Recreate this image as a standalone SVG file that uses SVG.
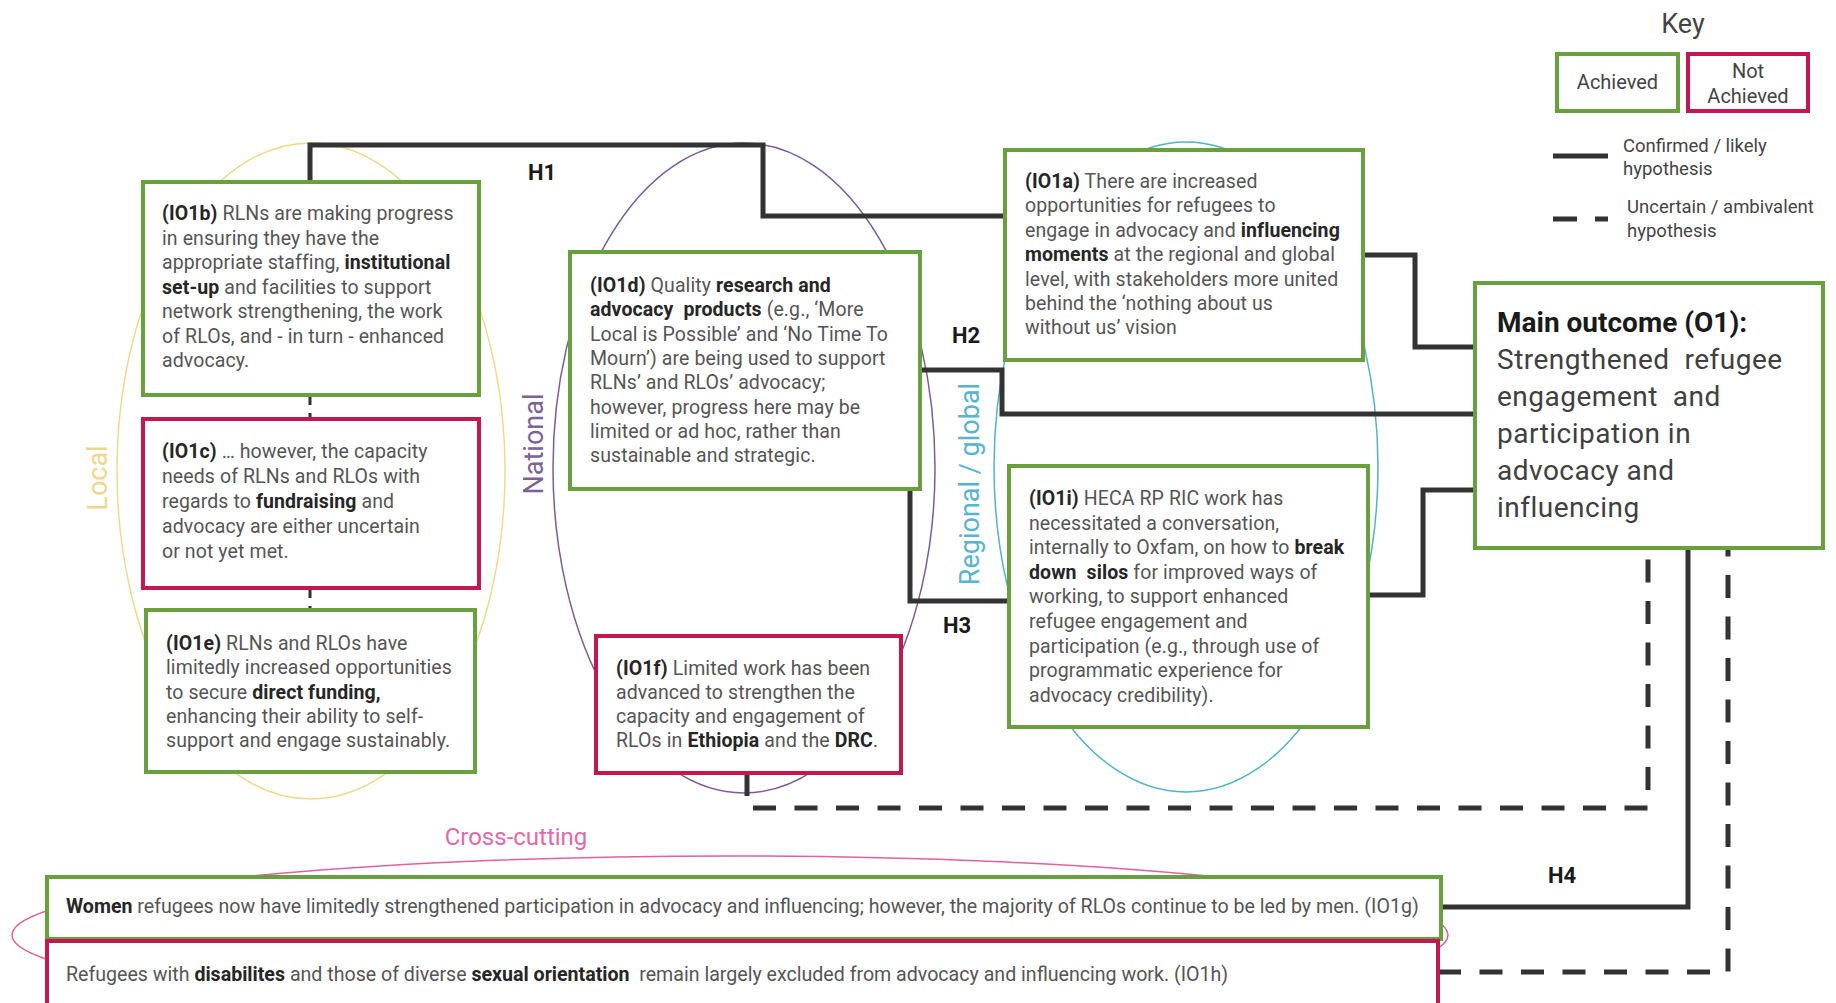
<svg xmlns="http://www.w3.org/2000/svg" width="1836" height="1003" viewBox="0 0 1836 1003">
<style>
.bg{fill:#ffffff}
.bx-g{fill:#ffffff;stroke:#67a03c;stroke-width:4}
.bx-r{fill:#ffffff;stroke:#c5174f;stroke-width:4}
.t{font-family:Roboto,"Liberation Sans",sans-serif;font-size:19.5px;fill:#555555;letter-spacing:0.1px}
.b{font-weight:700;fill:#262626}
.w{font-family:Roboto,"Liberation Sans",sans-serif;font-size:19.6px;fill:#555555}
.m{font-family:Roboto,"Liberation Sans",sans-serif;font-size:28px;fill:#404040;letter-spacing:0.5px}
.mb{font-weight:700;fill:#1a1a1a;letter-spacing:0}
.h{font-family:Roboto,"Liberation Sans",sans-serif;font-size:22px;font-weight:700;fill:#1a1a1a}
.k{font-family:Roboto,"Liberation Sans",sans-serif;fill:#444444}
.lbl{font-family:Roboto,"Liberation Sans",sans-serif;font-size:27px}
.ell{fill:none;stroke-width:1.5}
.conn{fill:none;stroke:#333333;stroke-width:5}
.dash{stroke-dasharray:23 18.5}
.tick{fill:none;stroke:#333333;stroke-width:3;stroke-dasharray:10 8}
</style>
<rect class="bg" x="0" y="0" width="1836" height="1003"/>

<g id="areas">
  <ellipse class="ell" cx="311" cy="471" rx="194" ry="328" stroke="#f2d98a"/>
  <ellipse class="ell" cx="744" cy="468" rx="191" ry="325" stroke="#7a5c9e"/>
  <ellipse class="ell" cx="1186" cy="467" rx="192" ry="325" stroke="#4fb3cf"/>
  <ellipse class="ell" cx="730" cy="935" rx="718" ry="79" stroke="#e2609c"/>
  <text class="lbl" transform="translate(107,478) rotate(-90)" text-anchor="middle" fill="#efd68c">Local</text>
  <text class="lbl" transform="translate(543,444) rotate(-90)" text-anchor="middle" fill="#7b6396">National</text>
  <text class="lbl" transform="translate(979,484) rotate(-90)" text-anchor="middle" fill="#56b4cf">Regional / global</text>
  <text class="lbl" x="516" y="845" text-anchor="middle" style="font-size:24px" fill="#e26aa6">Cross-cutting</text>
</g>

<g id="connectors">
  <path class="conn" d="M310,182 V145 H763 V216 H1005"/>
  <path class="conn" d="M1363,255 H1415 V347 H1475"/>
  <path class="conn" d="M920,370 H1002 V414 H1475"/>
  <path class="conn" d="M910,489 V601 H1009"/>
  <path class="conn" d="M1368,595 H1423 V490 H1475"/>
  <path class="conn" d="M1441,907 H1688 V549"/>
  <path class="conn dash" d="M1438,972 H1728 V549"/>
  <path class="conn" d="M747,773 V796"/>
  <path class="conn dash" d="M753,808 H1648 V552"/>
  <path class="tick" d="M310,395 V419"/>
  <path class="tick" d="M310,588 V610"/>
  <text class="h" x="528" y="180">H1</text>
  <text class="h" x="952" y="343">H2</text>
  <text class="h" x="943" y="633">H3</text>
  <text class="h" x="1548" y="883">H4</text>
</g>

<g id="IO1b">
  <rect class="bx-g" x="143" y="182" width="336" height="213"/>
  <text class="t" x="162" y="220"><tspan class="b">(IO1b)</tspan> RLNs are making progress</text>
  <text class="t" x="162" y="244.5">in ensuring they have the</text>
  <text class="t" x="162" y="269">appropriate staffing, <tspan class="b">institutional</tspan></text>
  <text class="t" x="162" y="293.5"><tspan class="b">set-up</tspan> and facilities to support</text>
  <text class="t" x="162" y="318">network strengthening, the work</text>
  <text class="t" x="162" y="342.5">of RLOs, and - in turn - enhanced</text>
  <text class="t" x="162" y="367">advocacy.</text>
</g>

<g id="IO1c">
  <rect class="bx-r" x="143" y="419" width="336" height="169"/>
  <text class="t" x="162" y="458"><tspan class="b">(IO1c)</tspan> … however, the capacity</text>
  <text class="t" x="162" y="483">needs of RLNs and RLOs with</text>
  <text class="t" x="162" y="508">regards to <tspan class="b">fundraising</tspan> and</text>
  <text class="t" x="162" y="533">advocacy are either uncertain</text>
  <text class="t" x="162" y="558">or not yet met.</text>
</g>

<g id="IO1e">
  <rect class="bx-g" x="146" y="610" width="329" height="162"/>
  <text class="t" x="166" y="650"><tspan class="b">(IO1e)</tspan> RLNs and RLOs have</text>
  <text class="t" x="166" y="674">limitedly increased opportunities</text>
  <text class="t" x="166" y="698.5">to secure <tspan class="b">direct funding,</tspan></text>
  <text class="t" x="166" y="723">enhancing their ability to self-</text>
  <text class="t" x="166" y="747">support and engage sustainably.</text>
</g>

<g id="IO1d">
  <rect class="bx-g" x="570" y="252" width="350" height="237"/>
  <text class="t" x="590" y="292"><tspan class="b">(IO1d)</tspan> Quality <tspan class="b">research and</tspan></text>
  <text class="t" x="590" y="316.3" xml:space="preserve"><tspan class="b">advocacy  products</tspan> (e.g., ‘More</text>
  <text class="t" x="590" y="340.6">Local is Possible’ and ‘No Time To</text>
  <text class="t" x="590" y="364.9">Mourn’) are being used to support</text>
  <text class="t" x="590" y="389.2">RLNs’ and RLOs’ advocacy;</text>
  <text class="t" x="590" y="413.5">however, progress here may be</text>
  <text class="t" x="590" y="437.8">limited or ad hoc, rather than</text>
  <text class="t" x="590" y="462.1">sustainable and strategic.</text>
</g>

<g id="IO1f">
  <rect class="bx-r" x="596" y="636" width="305" height="137"/>
  <text class="t" x="616" y="675"><tspan class="b">(IO1f)</tspan> Limited work has been</text>
  <text class="t" x="616" y="699">advanced to strengthen the</text>
  <text class="t" x="616" y="723">capacity and engagement of</text>
  <text class="t" x="616" y="747">RLOs in <tspan class="b">Ethiopia</tspan> and the <tspan class="b">DRC</tspan>.</text>
</g>

<g id="IO1a">
  <rect class="bx-g" x="1005" y="150" width="358" height="210"/>
  <text class="t" x="1025" y="188"><tspan class="b">(IO1a)</tspan> There are increased</text>
  <text class="t" x="1025" y="212.4">opportunities for refugees to</text>
  <text class="t" x="1025" y="236.8">engage in advocacy and <tspan class="b">influencing</tspan></text>
  <text class="t" x="1025" y="261.2"><tspan class="b">moments</tspan> at the regional and global</text>
  <text class="t" x="1025" y="285.6">level, with stakeholders more united</text>
  <text class="t" x="1025" y="310">behind the ‘nothing about us</text>
  <text class="t" x="1025" y="334.4">without us’ vision</text>
</g>

<g id="IO1i">
  <rect class="bx-g" x="1009" y="466" width="359" height="261"/>
  <text class="t" x="1029" y="505"><tspan class="b">(IO1i)</tspan> HECA RP RIC work has</text>
  <text class="t" x="1029" y="529.6">necessitated a conversation,</text>
  <text class="t" x="1029" y="554.2">internally to Oxfam, on how to <tspan class="b">break</tspan></text>
  <text class="t" x="1029" y="578.8" xml:space="preserve"><tspan class="b">down  silos</tspan> for improved ways of</text>
  <text class="t" x="1029" y="603.4">working, to support enhanced</text>
  <text class="t" x="1029" y="628">refugee engagement and</text>
  <text class="t" x="1029" y="652.6">participation (e.g., through use of</text>
  <text class="t" x="1029" y="677.2">programmatic experience for</text>
  <text class="t" x="1029" y="701.8">advocacy credibility).</text>
</g>

<g id="O1">
  <rect class="bx-g" x="1475" y="283" width="348" height="265"/>
  <text class="m" x="1497" y="332"><tspan class="mb">Main outcome (O1):</tspan></text>
  <text class="m" x="1497" y="369" xml:space="preserve">Strengthened  refugee</text>
  <text class="m" x="1497" y="406" xml:space="preserve">engagement  and</text>
  <text class="m" x="1497" y="443">participation in</text>
  <text class="m" x="1497" y="480">advocacy and</text>
  <text class="m" x="1497" y="517">influencing</text>
</g>

<g id="IO1g">
  <rect class="bx-g" x="47" y="877" width="1394" height="62"/>
  <text class="w" x="66" y="913"><tspan class="b">Women</tspan> refugees now have limitedly strengthened participation in advocacy and influencing; however, the majority of RLOs continue to be led by men. (IO1g)</text>
</g>

<g id="IO1h">
  <rect class="bx-r" x="47" y="941" width="1391" height="70"/>
  <text class="w" x="66" y="981" xml:space="preserve">Refugees with <tspan class="b">disabilites</tspan> and those of diverse <tspan class="b">sexual orientation</tspan>  remain largely excluded from advocacy and influencing work. (IO1h)</text>
</g>

<g id="key">
  <text class="k" x="1683" y="33" text-anchor="middle" style="font-size:27px">Key</text>
  <rect class="bx-g" x="1557" y="54" width="121" height="57"/>
  <text class="k" x="1617.5" y="89" text-anchor="middle" style="font-size:20px">Achieved</text>
  <rect class="bx-r" x="1688" y="54" width="120" height="57"/>
  <text class="k" x="1748" y="78" text-anchor="middle" style="font-size:20px">Not</text>
  <text class="k" x="1748" y="103" text-anchor="middle" style="font-size:20px">Achieved</text>
  <path class="conn" d="M1553,156 H1608"/>
  <text class="k" x="1623" y="152" style="font-size:18.5px">Confirmed / likely</text>
  <text class="k" x="1623" y="175" style="font-size:18.5px">hypothesis</text>
  <path class="conn" d="M1553,219 H1577 M1595,219 H1608"/>
  <text class="k" x="1627" y="213" style="font-size:18.5px">Uncertain / ambivalent</text>
  <text class="k" x="1627" y="237" style="font-size:18.5px">hypothesis</text>
</g>
</svg>
